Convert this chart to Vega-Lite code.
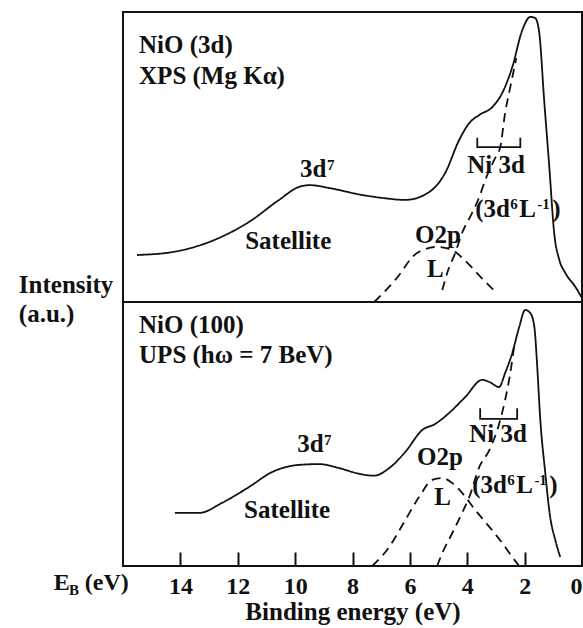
{
  "$schema": "https://vega.github.io/schema/vega-lite/v6.json",
  "padding": {"left": 17, "top": 11, "right": 0, "bottom": 0},
  "spacing": 0,
  "bounds": "flush",
  "config": {
    "view": {"stroke": "#111", "strokeWidth": 2},
    "font": "Liberation Serif, DejaVu Serif, serif",
    "text": {"font": "Liberation Serif, DejaVu Serif, serif"}
  },
  "datasets": {
    "top_lines": [
      {"s": "total", "e": 15.51, "v": 0.162}, {"s": "total", "e": 14.29, "v": 0.172}, {"s": "total", "e": 12.65, "v": 0.221},
      {"s": "total", "e": 11.61, "v": 0.276}, {"s": "total", "e": 10.56, "v": 0.352}, {"s": "total", "e": 9.86, "v": 0.397},
      {"s": "total", "e": 9.48, "v": 0.403}, {"s": "total", "e": 8.81, "v": 0.393}, {"s": "total", "e": 7.66, "v": 0.369},
      {"s": "total", "e": 6.97, "v": 0.359}, {"s": "total", "e": 6.16, "v": 0.352}, {"s": "total", "e": 5.33, "v": 0.379},
      {"s": "total", "e": 4.77, "v": 0.445}, {"s": "total", "e": 4.28, "v": 0.559}, {"s": "total", "e": 3.93, "v": 0.617},
      {"s": "total", "e": 3.58, "v": 0.645}, {"s": "total", "e": 3.13, "v": 0.672}, {"s": "total", "e": 2.78, "v": 0.721},
      {"s": "total", "e": 2.43, "v": 0.810}, {"s": "total", "e": 2.08, "v": 0.938}, {"s": "total", "e": 1.80, "v": 0.983},
      {"s": "total", "e": 1.63, "v": 0.979}, {"s": "total", "e": 1.49, "v": 0.928}, {"s": "total", "e": 1.32, "v": 0.697},
      {"s": "total", "e": 1.14, "v": 0.466}, {"s": "total", "e": 0.97, "v": 0.238}, {"s": "total", "e": 0.79, "v": 0.145},
      {"s": "total", "e": 0.58, "v": 0.100}, {"s": "total", "e": 0.23, "v": 0.052}, {"s": "total", "e": 0.02, "v": 0.017},
      {"s": "Ni 3d", "e": 2.29, "v": 0.841}, {"s": "Ni 3d", "e": 2.50, "v": 0.741}, {"s": "Ni 3d", "e": 2.68, "v": 0.652},
      {"s": "Ni 3d", "e": 2.85, "v": 0.534}, {"s": "Ni 3d", "e": 3.06, "v": 0.490}, {"s": "Ni 3d", "e": 3.37, "v": 0.421},
      {"s": "Ni 3d", "e": 3.58, "v": 0.362}, {"s": "Ni 3d", "e": 3.83, "v": 0.307}, {"s": "Ni 3d", "e": 4.18, "v": 0.238},
      {"s": "Ni 3d", "e": 4.42, "v": 0.169}, {"s": "Ni 3d", "e": 4.70, "v": 0.100}, {"s": "Ni 3d", "e": 4.87, "v": 0.041},
      {"s": "O 2p", "e": 7.24, "v": 0.0}, {"s": "O 2p", "e": 6.51, "v": 0.076}, {"s": "O 2p", "e": 5.75, "v": 0.169},
      {"s": "O 2p", "e": 5.05, "v": 0.190}, {"s": "O 2p", "e": 4.52, "v": 0.179}, {"s": "O 2p", "e": 4.10, "v": 0.145},
      {"s": "O 2p", "e": 3.53, "v": 0.086}, {"s": "O 2p", "e": 2.98, "v": 0.031}
    ],
    "bottom_lines": [
      {"s": "total", "e": 14.19, "v": 0.201}, {"s": "total", "e": 13.35, "v": 0.201}, {"s": "total", "e": 12.55, "v": 0.239},
      {"s": "total", "e": 11.61, "v": 0.299}, {"s": "total", "e": 10.80, "v": 0.356}, {"s": "total", "e": 9.86, "v": 0.383},
      {"s": "total", "e": 9.16, "v": 0.386}, {"s": "total", "e": 8.47, "v": 0.371}, {"s": "total", "e": 7.80, "v": 0.350},
      {"s": "total", "e": 7.25, "v": 0.342}, {"s": "total", "e": 6.72, "v": 0.371}, {"s": "total", "e": 6.16, "v": 0.432},
      {"s": "total", "e": 5.57, "v": 0.515}, {"s": "total", "e": 5.12, "v": 0.538}, {"s": "total", "e": 4.63, "v": 0.580},
      {"s": "total", "e": 4.07, "v": 0.640}, {"s": "total", "e": 3.48, "v": 0.705}, {"s": "total", "e": 3.23, "v": 0.697},
      {"s": "total", "e": 2.89, "v": 0.678}, {"s": "total", "e": 2.68, "v": 0.731}, {"s": "total", "e": 2.43, "v": 0.807},
      {"s": "total", "e": 2.19, "v": 0.905}, {"s": "total", "e": 1.98, "v": 0.970}, {"s": "total", "e": 1.80, "v": 0.958},
      {"s": "total", "e": 1.66, "v": 0.905}, {"s": "total", "e": 1.56, "v": 0.754}, {"s": "total", "e": 1.46, "v": 0.564},
      {"s": "total", "e": 1.28, "v": 0.352}, {"s": "total", "e": 1.11, "v": 0.186}, {"s": "total", "e": 0.93, "v": 0.098},
      {"s": "total", "e": 0.76, "v": 0.034},
      {"s": "Ni 3d", "e": 2.36, "v": 0.837}, {"s": "Ni 3d", "e": 2.50, "v": 0.731}, {"s": "Ni 3d", "e": 2.68, "v": 0.629},
      {"s": "Ni 3d", "e": 2.85, "v": 0.553}, {"s": "Ni 3d", "e": 3.23, "v": 0.439}, {"s": "Ni 3d", "e": 3.58, "v": 0.375},
      {"s": "Ni 3d", "e": 3.93, "v": 0.261}, {"s": "Ni 3d", "e": 4.18, "v": 0.201}, {"s": "Ni 3d", "e": 4.52, "v": 0.125},
      {"s": "Ni 3d", "e": 4.87, "v": 0.049}, {"s": "Ni 3d", "e": 5.05, "v": 0.0},
      {"s": "O 2p", "e": 7.31, "v": 0.0}, {"s": "O 2p", "e": 6.72, "v": 0.072}, {"s": "O 2p", "e": 6.16, "v": 0.174},
      {"s": "O 2p", "e": 5.68, "v": 0.261}, {"s": "O 2p", "e": 5.22, "v": 0.326}, {"s": "O 2p", "e": 4.87, "v": 0.333},
      {"s": "O 2p", "e": 4.52, "v": 0.314}, {"s": "O 2p", "e": 4.18, "v": 0.277}, {"s": "O 2p", "e": 3.72, "v": 0.212},
      {"s": "O 2p", "e": 3.23, "v": 0.148}, {"s": "O 2p", "e": 2.78, "v": 0.087}, {"s": "O 2p", "e": 2.43, "v": 0.034},
      {"s": "O 2p", "e": 2.19, "v": 0.0}
    ],
    "top_bracket": [
      {"k": 1, "e": 3.65, "v": 0.566}, {"k": 2, "e": 3.65, "v": 0.534},
      {"k": 3, "e": 2.15, "v": 0.534}, {"k": 4, "e": 2.15, "v": 0.566}
    ],
    "bottom_bracket": [
      {"k": 1, "e": 3.55, "v": 0.598}, {"k": 2, "e": 3.55, "v": 0.557},
      {"k": 3, "e": 2.26, "v": 0.557}, {"k": 4, "e": 2.26, "v": 0.598}
    ],
    "top_labels": [
      {"t": "NiO (3d)", "e": 15.44, "v": 0.859},
      {"t": "XPS (Mg Kα)", "e": 15.44, "v": 0.752},
      {"t": "3d", "e": 9.83, "v": 0.431},
      {"t": "Satellite", "e": 11.74, "v": 0.183},
      {"t": "O2p", "e": 5.82, "v": 0.203},
      {"t": "L", "e": 5.40, "v": 0.086},
      {"t": "Ni 3d", "e": 4.00, "v": 0.445},
      {"t": "(3d", "e": 3.72, "v": 0.293},
      {"t": "L", "e": 2.19, "v": 0.293},
      {"t": ")", "e": 1.04, "v": 0.293},
      {"t": "Intensity", "e": 19.63, "v": 0.031},
      {"t": "(a.u.)", "e": 19.63, "v": -0.069}
    ],
    "top_sup": [
      {"t": "7", "e": 8.89, "v": 0.455},
      {"t": "6", "e": 2.50, "v": 0.321},
      {"t": "-1", "e": 1.56, "v": 0.321}
    ],
    "bottom_labels": [
      {"t": "NiO (100)", "e": 15.44, "v": 0.883},
      {"t": "UPS (hω = 7 BeV)", "e": 15.44, "v": 0.769},
      {"t": "3d", "e": 9.93, "v": 0.432},
      {"t": "Satellite", "e": 11.78, "v": 0.182},
      {"t": "O2p", "e": 5.75, "v": 0.383},
      {"t": "L", "e": 5.15, "v": 0.231},
      {"t": "Ni 3d", "e": 3.93, "v": 0.470},
      {"t": "(3d", "e": 3.83, "v": 0.277},
      {"t": "L", "e": 2.29, "v": 0.277},
      {"t": ")", "e": 1.14, "v": 0.277}
    ],
    "bottom_sup": [
      {"t": "7", "e": 8.99, "v": 0.458},
      {"t": "6", "e": 2.61, "v": 0.307},
      {"t": "-1", "e": 1.66, "v": 0.307}
    ],
    "eb_label": [
      {"t": "E", "e": 18.41, "v": -0.091},
      {"t": "(eV)", "e": 17.33, "v": -0.091}
    ],
    "eb_sub": [
      {"t": "B", "e": 17.88, "v": -0.110}
    ]
  },
  "vconcat": [
    {
      "width": 459,
      "height": 290,
      "encoding": {
        "x": {"field": "e", "type": "quantitative", "scale": {"domain": [16, 0], "nice": false, "zero": false}, "axis": null},
        "y": {"field": "v", "type": "quantitative", "scale": {"domain": [0, 1], "nice": false, "zero": false}, "axis": null}
      },
      "layer": [
        {
          "data": {"name": "top_lines"},
          "mark": {"type": "line", "interpolate": "monotone", "color": "#111", "strokeWidth": 1.8},
          "encoding": {
            "detail": {"field": "s", "type": "nominal"},
            "strokeDash": {"field": "s", "type": "nominal", "scale": {"domain": ["total", "Ni 3d", "O 2p"], "range": [[1, 0], [9, 6], [9, 6]]}, "legend": null}
          }
        },
        {
          "data": {"name": "top_bracket"},
          "mark": {"type": "line", "color": "#111", "strokeWidth": 1.8},
          "encoding": {"order": {"field": "k", "type": "quantitative"}}
        },
        {
          "data": {"name": "top_labels"},
          "mark": {"type": "text", "align": "left", "baseline": "alphabetic", "font": "Liberation Serif, DejaVu Serif, serif", "fontSize": 25, "fontWeight": "bold", "color": "#111"},
          "encoding": {"text": {"field": "t", "type": "nominal"}}
        },
        {
          "data": {"name": "top_sup"},
          "mark": {"type": "text", "align": "left", "baseline": "alphabetic", "font": "Liberation Serif, DejaVu Serif, serif", "fontSize": 15, "fontWeight": "bold", "color": "#111"},
          "encoding": {"text": {"field": "t", "type": "nominal"}}
        }
      ]
    },
    {
      "width": 459,
      "height": 264,
      "encoding": {
        "x": {
          "field": "e", "type": "quantitative",
          "scale": {"domain": [16, 0], "nice": false, "zero": false},
          "axis": {
            "values": [14, 12, 10, 8, 6, 4, 2, 0],
            "domain": false, "grid": false,
            "tickSize": -14, "tickWidth": 2, "tickColor": "#111",
            "labelPadding": 22, "labelFontSize": 24, "labelFontWeight": "bold", "labelColor": "#111",
            "labelFont": "Liberation Serif, DejaVu Serif, serif", "labelFlush": true,
            "title": "Binding energy (eV)", "titleFont": "Liberation Serif, DejaVu Serif, serif", "titleFontSize": 25,
            "titleFontWeight": "bold", "titleColor": "#111", "titleY": 53, "titleBaseline": "alphabetic"
          }
        },
        "y": {"field": "v", "type": "quantitative", "scale": {"domain": [0, 1], "nice": false, "zero": false}, "axis": null}
      },
      "layer": [
        {
          "data": {"name": "bottom_lines"},
          "mark": {"type": "line", "interpolate": "monotone", "color": "#111", "strokeWidth": 1.8},
          "encoding": {
            "detail": {"field": "s", "type": "nominal"},
            "strokeDash": {"field": "s", "type": "nominal", "scale": {"domain": ["total", "Ni 3d", "O 2p"], "range": [[1, 0], [9, 6], [9, 6]]}, "legend": null}
          }
        },
        {
          "data": {"name": "bottom_bracket"},
          "mark": {"type": "line", "color": "#111", "strokeWidth": 1.8},
          "encoding": {"order": {"field": "k", "type": "quantitative"}}
        },
        {
          "data": {"name": "bottom_labels"},
          "mark": {"type": "text", "align": "left", "baseline": "alphabetic", "font": "Liberation Serif, DejaVu Serif, serif", "fontSize": 25, "fontWeight": "bold", "color": "#111"},
          "encoding": {"text": {"field": "t", "type": "nominal"}}
        },
        {
          "data": {"name": "bottom_sup"},
          "mark": {"type": "text", "align": "left", "baseline": "alphabetic", "font": "Liberation Serif, DejaVu Serif, serif", "fontSize": 15, "fontWeight": "bold", "color": "#111"},
          "encoding": {"text": {"field": "t", "type": "nominal"}}
        },
        {
          "data": {"name": "eb_label"},
          "mark": {"type": "text", "align": "left", "baseline": "alphabetic", "font": "Liberation Serif, DejaVu Serif, serif", "fontSize": 24, "fontWeight": "bold", "color": "#111"},
          "encoding": {"text": {"field": "t", "type": "nominal"}}
        },
        {
          "data": {"name": "eb_sub"},
          "mark": {"type": "text", "align": "left", "baseline": "alphabetic", "font": "Liberation Serif, DejaVu Serif, serif", "fontSize": 15, "fontWeight": "bold", "color": "#111"},
          "encoding": {"text": {"field": "t", "type": "nominal"}}
        }
      ]
    }
  ]
}
